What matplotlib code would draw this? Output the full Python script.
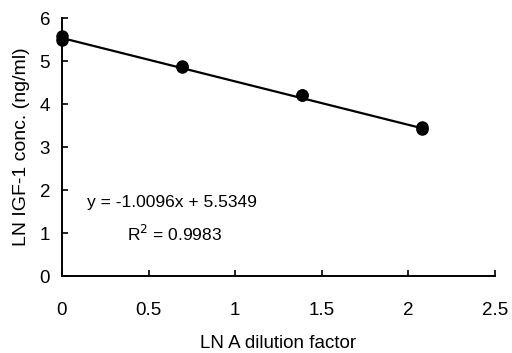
import matplotlib
matplotlib.use("Agg")
import matplotlib.pyplot as plt
import numpy as np

plt.rcParams['font.family'] = ['Liberation Sans', 'DejaVu Sans']

# ln of dilution factor (1, 2, 4, 8) and ln IGF-1 conc., duplicates
dilution = [0.0, 0.0, 0.693, 0.693, 1.386, 1.386, 2.079, 2.079]
ln_conc = [5.57, 5.50, 4.88, 4.86, 4.22, 4.20, 3.47, 3.42]
slope = -1.0096
intercept = 5.5349
r2 = 0.9983

fig = plt.figure(figsize=(5.12, 3.53), dpi=100)
ax = fig.add_axes([0.121, 0.218, 0.846, 0.731])

xs = np.array([0.0, max(dilution)])
ax.plot(xs, slope * xs + intercept, color="black", lw=1.6, zorder=2)
ax.plot(dilution, ln_conc, "o", color="black", ms=8, zorder=3, clip_on=False)

ax.set_xlim(0, 2.5)
ax.set_ylim(0, 6)
ax.set_xticks([0, 0.5, 1, 1.5, 2, 2.5])
ax.set_xticklabels(["0", "0.5", "1", "1.5", "2", "2.5"])
ax.set_yticks(range(0, 7))
ax.spines["top"].set_visible(False)
ax.spines["right"].set_visible(False)
ax.spines["left"].set_linewidth(1.4)
ax.spines["bottom"].set_linewidth(1.4)
ax.tick_params(direction="in", length=4, width=1.2, labelsize=13.5)
ax.tick_params(axis="x", pad=18.5)
ax.tick_params(axis="y", pad=8.5)

ax.set_xlabel("LN A dilution factor", fontsize=13.5, labelpad=12)
ax.set_ylabel("LN IGF-1 conc. (ng/ml)", fontsize=14, labelpad=7)

ax.text(0.635, 1.70, "y = -1.0096x + 5.5349", fontsize=12.5,
        ha="center", va="center")
ax.text(0.65, 0.98, "R$^2$ = %.4f" % r2, fontsize=12.5,
        ha="center", va="center")

fig.savefig("out.png", dpi=100)
